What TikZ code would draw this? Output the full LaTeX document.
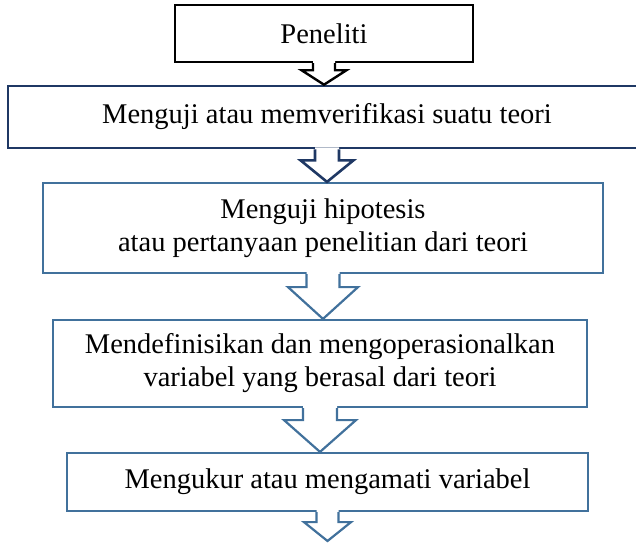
\documentclass[tikz,border=0pt]{standalone}
\usepackage{fontspec}
\setmainfont{Liberation Serif}
\usetikzlibrary{calc}

\definecolor{navy}{HTML}{1F3864}
\definecolor{steel}{HTML}{41719C}

\tikzset{
    box/.style={draw, rectangle, inner sep=0pt, align=center, fill=white,
        font=\fontsize{28.5}{33}\selectfont},
    blackline/.style={draw=black, line width=2.4pt},
    navyline/.style={draw=navy, line width=2.6pt},
    steelline/.style={draw=steel, line width=2.2pt}
}

% block arrow under a box: style, from, tip, stem half width, head half width, stem length
\newcommand{\flowarrow}[6]{%
    \path (#2.south) coordinate (s) (#2.south |- #3) coordinate (t);
    \fill[white] ($(s)+(-#4,-2)$) -- ($(s)+(-#4,#6)$) -- ($(s)+(-#5,#6)$) -- (t)
        -- ($(s)+(#5,#6)$) -- ($(s)+(#4,#6)$) -- ($(s)+(#4,-2)$) -- cycle;
    \draw[#1] ($(s)+(-#4,0)$) -- ($(s)+(-#4,#6)$) -- ($(s)+(-#5,#6)$) -- (t)
        -- ($(s)+(#5,#6)$) -- ($(s)+(#4,#6)$) -- ($(s)+(#4,0)$);
}

\begin{document}
\begin{tikzpicture}[x=1pt, y=-1pt]
    \useasboundingbox (0,0) rectangle (636,543);
    \clip (0,0) rectangle (636,543);

    \node[box, blackline, minimum width=298pt, minimum height=57pt] (P) at (324, 33.5) {Peneliti};
    \node[box, navyline, minimum width=638pt, minimum height=62pt] (M1) at (327, 117) {Menguji atau memverifikasi suatu teori};
    \node[box, steelline, minimum width=560pt, minimum height=90pt] (M2) at (323, 228) {Menguji hipotesis\\atau pertanyaan penelitian dari teori};
    \node[box, steelline, minimum width=534pt, minimum height=87pt] (M3) at (320, 363.5) {Mendefinisikan dan mengoperasionalkan\\variabel yang berasal dari teori};
    \node[box, steelline, minimum width=521pt, minimum height=58pt] (M4) at (327.5, 482) {Mengukur atau mengamati variabel};
    \coordinate (end) at (327.5, 541);

    \flowarrow{blackline}{P}{M1.north}{11}{22.5}{7}
    \flowarrow{navyline}{M1}{M2.north}{12}{26.5}{11}
    \flowarrow{steelline}{M2}{M3.north}{16.5}{35}{13}
    \flowarrow{steelline}{M3}{M4.north}{17}{36}{12}
    \flowarrow{steelline}{M4}{end}{11}{23.5}{10}
\end{tikzpicture}
\end{document}
